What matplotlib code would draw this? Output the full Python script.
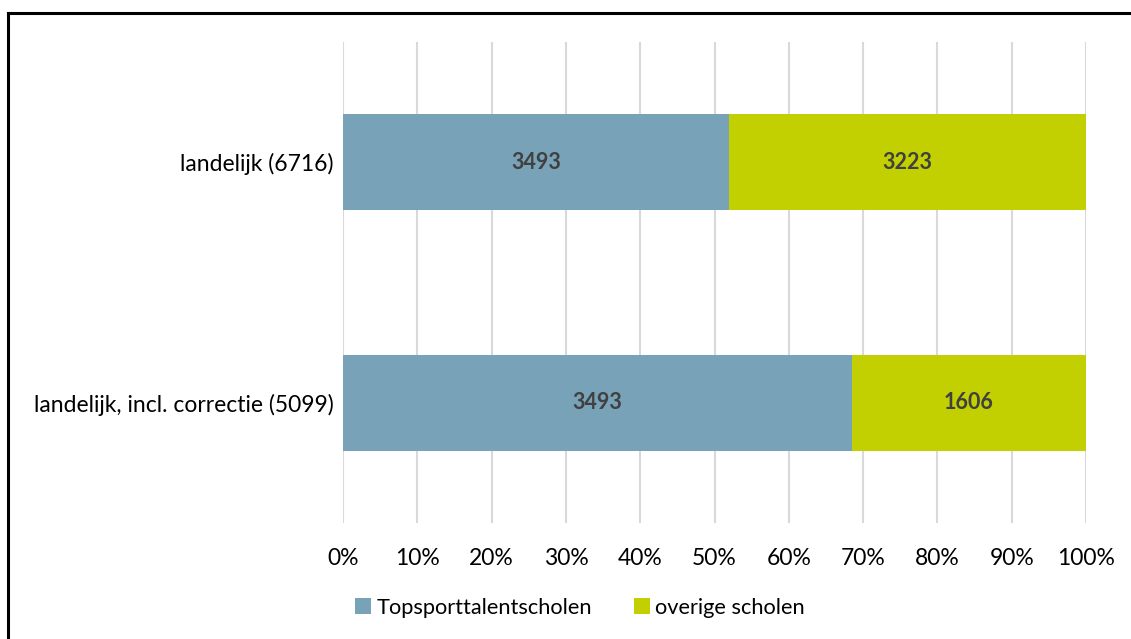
import matplotlib
matplotlib.use("Agg")
import matplotlib.pyplot as plt
from matplotlib.lines import Line2D
import numpy as np

# data
categories = ["landelijk, incl. correctie (5099)", "landelijk (6716)"]
topsport = [3493, 3493]
overig = [1606, 3223]
series_names = ["Topsporttalentscholen", "overige scholen"]
ticks = [0, 10, 20, 30, 40, 50, 60, 70, 80, 90, 100]

kleur_blauw = "#78A2B7"
kleur_groen = "#C2CF00"

plt.rcParams["font.family"] = ["Lato", "DejaVu Sans"]

totaal = np.array(topsport) + np.array(overig)
pct_top = np.array(topsport) / totaal * 100
pct_ov = np.array(overig) / totaal * 100

fig = plt.figure(figsize=(11.31, 6.39), dpi=100)
ax = fig.add_axes([343 / 1131, 1 - 523 / 639, (1086 - 343) / 1131, (523 - 42) / 639])

y = np.arange(len(categories))
b1 = ax.barh(y, pct_top, height=0.4, color=kleur_blauw, label=series_names[0], zorder=3)
b2 = ax.barh(y, pct_ov, left=pct_top, height=0.4, color=kleur_groen, label=series_names[1], zorder=3)

# waarden in de balken
for i in range(len(categories)):
    ax.text(pct_top[i] / 2, y[i], str(topsport[i]), ha="center", va="center",
            fontsize=15.5, fontweight="bold", color="#404040", zorder=4)
    ax.text(pct_top[i] + pct_ov[i] / 2, y[i], str(overig[i]), ha="center", va="center",
            fontsize=15.5, fontweight="bold", color="#404040", zorder=4)

ax.set_xlim(0, 100)
ax.set_ylim(-0.5, 1.5)
ax.set_xticks(ticks)
ax.set_xticklabels([f"{t}%" for t in ticks], fontsize=16.5)
ax.set_yticks(y)
ax.set_yticklabels(categories, fontsize=16.5)
ax.tick_params(axis="both", length=0)
ax.tick_params(axis="x", pad=18)
ax.tick_params(axis="y", pad=7)
ax.grid(axis="x", color="#D9D9D9", linewidth=1.5, zorder=0)
for s in ax.spines.values():
    s.set_visible(False)

ax.legend(loc="center", bbox_to_anchor=(580 / 1131, 1 - 608 / 639), bbox_transform=fig.transFigure,
          ncol=2, frameon=False, fontsize=15.7, handlelength=0.75, handleheight=0.75,
          handletextpad=0.25, columnspacing=1.9)

# rand om de figuur
fig.add_artist(Line2D([8 / 1131, 8 / 1131], [0, 1 - 13 / 639], color="black", linewidth=2.2))
fig.add_artist(Line2D([8 / 1131, 1], [1 - 13 / 639, 1 - 13 / 639], color="black", linewidth=2.2))

fig.savefig("out.png", dpi=100)
